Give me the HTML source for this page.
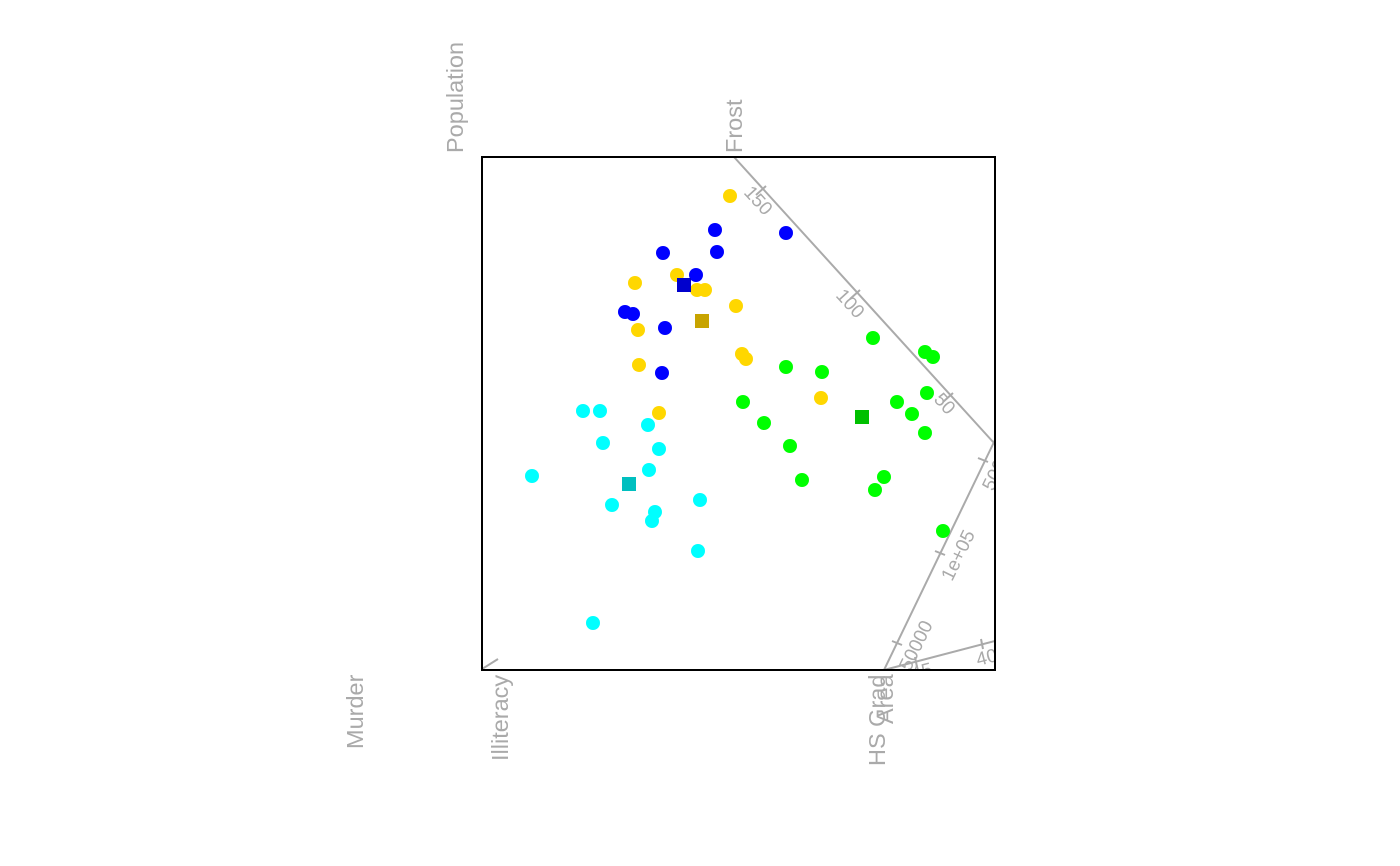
<!DOCTYPE html>
<html><head><meta charset="utf-8"><style>html,body{margin:0;padding:0;background:#fff}svg{display:block}</style></head>
<body>
<svg width="1400" height="866" viewBox="0 0 1400 866" xmlns="http://www.w3.org/2000/svg" font-family="Liberation Sans, sans-serif">
<defs><clipPath id="c"><rect x="482" y="157" width="513" height="513"/></clipPath></defs>
<g fill="#aaa" font-size="23.5">
<text transform="translate(463,153) rotate(-90)">Population</text>
<text transform="translate(742,153) rotate(-90)">Frost</text>
<text transform="translate(363,749) rotate(-90)">Murder</text>
<text transform="translate(508,761) rotate(-90)">Illiteracy</text>
<text transform="translate(885,766) rotate(-90)">HS Grad</text>
<text transform="translate(893,724) rotate(-90)">Area</text>
</g>
<g clip-path="url(#c)" stroke="#aaa" stroke-width="2" fill="none">
<line x1="734" y1="157" x2="994" y2="443"/>
<line x1="884" y1="670" x2="995" y2="440"/>
<line x1="884" y1="670" x2="995" y2="641"/>
<line x1="482" y1="669" x2="498" y2="659"/>
<line x1="756" y1="195" x2="766" y2="186"/>
<line x1="850" y1="299" x2="860" y2="290"/>
<line x1="943" y1="402" x2="953" y2="393"/>
<line x1="892" y1="641" x2="902" y2="645"/>
<line x1="935" y1="551" x2="945" y2="555"/>
<line x1="978" y1="458" x2="988" y2="462"/>
<line x1="915" y1="657" x2="917" y2="667"/>
<line x1="981" y1="639" x2="983" y2="649"/>
</g>
<g clip-path="url(#c)" fill="#aaa" font-size="19">
<text transform="translate(743,193) rotate(47.7)">150</text>
<text transform="translate(835,296) rotate(47.7)">100</text>
<text transform="translate(933,400) rotate(47.7)">50</text>
<text transform="translate(993,492) rotate(-64)">5000</text>
<text transform="translate(952,582) rotate(-64)">1e+05</text>
<text transform="translate(910,672) rotate(-64)">50000</text>
<text transform="translate(913,680) rotate(-14.6)">45</text>
<text transform="translate(978,666) rotate(-14.6)">40</text>
</g>
<rect x="482" y="157" width="513" height="513" fill="none" stroke="#000" stroke-width="2"/>
<g fill="#FFD700">
<circle cx="730" cy="196" r="7"/><circle cx="677" cy="275" r="7"/><circle cx="635" cy="283" r="7"/>
<circle cx="697" cy="290" r="7"/><circle cx="705" cy="290" r="7"/><circle cx="736" cy="306" r="7"/>
<circle cx="638" cy="330" r="7"/><circle cx="639" cy="365" r="7"/><circle cx="742" cy="354" r="7"/>
<circle cx="746" cy="359" r="7"/><circle cx="821" cy="398" r="7"/><circle cx="659" cy="413" r="7"/>
</g>
<g fill="#0000FF">
<circle cx="715" cy="230" r="7"/><circle cx="786" cy="233" r="7"/><circle cx="663" cy="253" r="7"/>
<circle cx="717" cy="252" r="7"/><circle cx="696" cy="275" r="7"/><circle cx="625" cy="312" r="7"/>
<circle cx="633" cy="314" r="7"/><circle cx="665" cy="328" r="7"/><circle cx="662" cy="373" r="7"/>
</g>
<g fill="#00FFFF">
<circle cx="583" cy="411" r="7"/><circle cx="600" cy="411" r="7"/><circle cx="648" cy="425" r="7"/>
<circle cx="603" cy="443" r="7"/><circle cx="659" cy="449" r="7"/><circle cx="649" cy="470" r="7"/>
<circle cx="532" cy="476" r="7"/><circle cx="700" cy="500" r="7"/><circle cx="612" cy="505" r="7"/>
<circle cx="655" cy="512" r="7"/><circle cx="652" cy="521" r="7"/><circle cx="698" cy="551" r="7"/>
<circle cx="593" cy="623" r="7"/>
</g>
<g fill="#00FF00">
<circle cx="873" cy="338" r="7"/><circle cx="925" cy="352" r="7"/><circle cx="933" cy="357" r="7"/>
<circle cx="786" cy="367" r="7"/><circle cx="822" cy="372" r="7"/><circle cx="927" cy="393" r="7"/>
<circle cx="743" cy="402" r="7"/><circle cx="897" cy="402" r="7"/><circle cx="912" cy="414" r="7"/>
<circle cx="764" cy="423" r="7"/><circle cx="925" cy="433" r="7"/><circle cx="790" cy="446" r="7"/>
<circle cx="884" cy="477" r="7"/><circle cx="802" cy="480" r="7"/><circle cx="875" cy="490" r="7"/>
<circle cx="943" cy="531" r="7"/>
</g>
<rect x="677" y="278" width="14" height="14" fill="#0000CD"/>
<rect x="695" y="314" width="14" height="14" fill="#C8A400"/>
<rect x="622" y="477" width="14" height="14" fill="#00BFBF"/>
<rect x="855" y="410" width="14" height="14" fill="#00C000"/>
</svg>
</body></html>
